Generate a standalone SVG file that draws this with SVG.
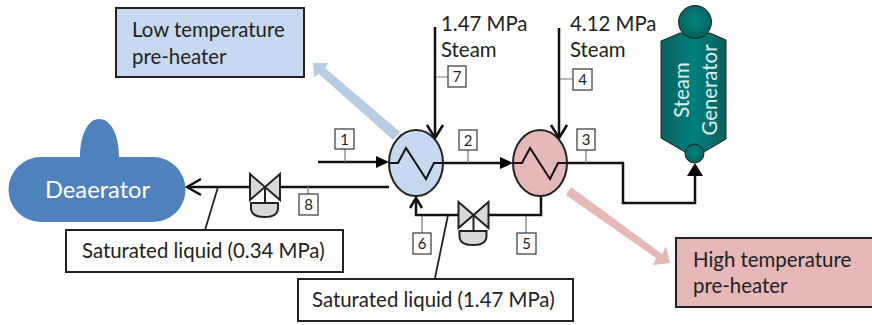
<svg xmlns="http://www.w3.org/2000/svg" width="872" height="325" viewBox="0 0 872 325">
<style>
text{font-family:"Lato","Liberation Sans",sans-serif;fill:#222}
.t{font-size:20.400px}
.n{font-size:15px;text-anchor:middle}
.box{fill:#fff;stroke:#222;stroke-width:2}
.tag{fill:#fff;stroke:#444;stroke-width:1.3}
.stem{fill:none;stroke:#777;stroke-width:1.2}
.pipe{fill:none;stroke:#111;stroke-width:2.5}
.thin{fill:none;stroke:#222;stroke-width:1.8}
.open{fill:none;stroke:#111;stroke-width:2.5}
.head{fill:#000}
.hx{stroke:#222;stroke-width:2}
.zig{fill:none;stroke:#111;stroke-width:2}
.valve{fill:#d9d9d9;stroke:#222;stroke-width:2}
.sgt{fill:#ddeeee;font-size:20.400px;text-anchor:middle}
</style>
<defs>
<linearGradient id="sg" x1="0" x2="1" y1="0" y2="0"><stop offset="0" stop-color="#0b5f5c"/><stop offset=".5" stop-color="#008080"/><stop offset="1" stop-color="#0b5f5c"/></linearGradient>
<radialGradient id="sgc" cx=".5" cy=".45" r=".6"><stop offset="0" stop-color="#008680"/><stop offset="1" stop-color="#0a5c58"/></radialGradient>
<g id="valve"><path class="valve" d="M-15-13 L15 13 V-13 L-15 13Z"/><path class="valve" d="M0 0V16"/><path class="valve" d="M-14 16H13V21Q13 30-0.5 30T-14 21Z"/></g>
</defs>

<g id="connectors">
<polygon fill="#b8cce4" points="393,140 400,132 325,68 328,63 313,63 314,77 319,74"/>
<polygon fill="#e6b8b7" points="571,187 662,254 666,246 670,263 653,265 656,258 566,195"/>
<path class="pipe" d="M187 187H250M279 187H389"/>
<path class="open" d="M201 179L187 187L201 195"/>
<path class="thin" d="M218 187L205 230"/>
<path class="pipe" d="M318 162H378M443 163H502M567 163H623V203H695V176"/>
<path class="head" d="M389 162L376 156V168ZM513 163L500 157V169ZM695 163L687 176H703Z"/>
<path class="pipe" d="M435 27V137M559 28V137"/>
<path class="open" d="M427 125L435 138L443 125M551 125L559 138L567 125"/>
<path class="pipe" d="M541 196V215H488M459 215H416V199"/>
<path class="open" d="M410 208L416 198L422 208"/>
<path class="thin" d="M448 215L435 278"/>
<path class="stem" d="M345 149V162M468 150V163M586 150V163M308 185V194M422 216V233M526 216V233M436 77H448M560 79H573"/>
</g>

<g id="low-box"><rect x="116" y="8" width="188" height="69" fill="#c6d9f1" stroke="#222" stroke-width="2"/><text class="t" x="132" y="37">Low temperature</text><text class="t" x="132" y="64">pre-heater</text></g>
<g id="high-box"><rect x="676" y="238" width="197" height="69" fill="#e6b8b7" stroke="#222" stroke-width="2"/><text class="t" x="693" y="267">High temperature</text><text class="t" x="693" y="293">pre-heater</text></g>

<g id="deaerator"><path fill="#4f81bd" d="M80 157C80 135 88 119 99 119C111 119 119 135 119 157H153A32.500 32.500 0 0 1 153 222H41A32.500 32.500 0 0 1 41 157Z"/><text x="45" y="198" font-size="23.700" style="fill:#fff">Deaerator</text></g>

<g id="low-heater"><ellipse class="hx" cx="416" cy="163" rx="27" ry="33" fill="#c6d9f1"/><path class="zig" d="M389 163H398L406 148L426 179L434 163H443"/></g>
<g id="high-heater"><ellipse class="hx" cx="540" cy="163" rx="27" ry="33" fill="#e6b8b7"/><path class="zig" d="M513 163H522L530 148L550 179L558 163H567"/></g>

<g id="valve-8"><use href="#valve" x="265" y="187"/></g>
<g id="valve-6"><use href="#valve" x="473.500" y="215"/></g>

<g id="steam-generator">
<polygon fill="url(#sg)" stroke="#222" stroke-width="1" points="661,41 680,33 710,33 726,40 726,139 704,152 685,152 661,138"/>
<circle cx="695" cy="22" r="16.500" fill="url(#sgc)" stroke="#222" stroke-width="1"/>
<circle cx="694.500" cy="153.500" r="9.500" fill="url(#sgc)" stroke="#222" stroke-width="1"/>
<text class="sgt" transform="translate(689 90) rotate(-90)">Steam</text>
<text class="sgt" transform="translate(717 90) rotate(-90)">Generator</text>
</g>

<g id="label-steam-147"><text class="t" x="441" y="31">1.47 MPa</text><text class="t" x="441" y="57">Steam</text></g>
<g id="label-steam-412"><text class="t" x="570" y="31">4.12 MPa</text><text class="t" x="570" y="57">Steam</text></g>

<g id="label-sat-034"><rect class="box" x="66" y="230" width="277" height="42"/><text class="t" x="82" y="258">Saturated liquid (0.34 MPa)</text></g>
<g id="label-sat-147"><rect class="box" x="298" y="279" width="275" height="42"/><text class="t" x="312" y="307">Saturated liquid (1.47 MPa)</text></g>

<g id="tag-1"><rect class="tag" x="335" y="129" width="19" height="20"/><text class="n" x="344.500" y="144.500">1</text></g>
<g id="tag-2"><rect class="tag" x="459" y="130" width="18" height="20"/><text class="n" x="468" y="145.500">2</text></g>
<g id="tag-3"><rect class="tag" x="577" y="129" width="18" height="21"/><text class="n" x="586" y="145">3</text></g>
<g id="tag-4"><rect class="tag" x="573" y="69" width="19" height="21"/><text class="n" x="582.500" y="85">4</text></g>
<g id="tag-5"><rect class="tag" x="517" y="233" width="19" height="21"/><text class="n" x="526.500" y="249">5</text></g>
<g id="tag-6"><rect class="tag" x="413" y="233" width="18" height="21"/><text class="n" x="422" y="249">6</text></g>
<g id="tag-7"><rect class="tag" x="448" y="66" width="18" height="21"/><text class="n" x="457" y="82">7</text></g>
<g id="tag-8"><rect class="tag" x="299" y="194" width="19" height="21"/><text class="n" x="308.500" y="210">8</text></g>
</svg>
